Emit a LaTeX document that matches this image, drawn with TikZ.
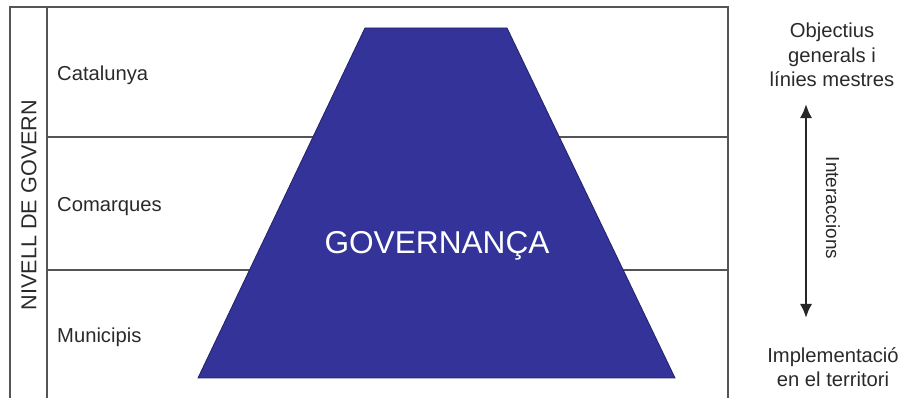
\documentclass[tikz,border=0pt]{standalone}
\usepackage{fontspec}
\setmainfont{Liberation Sans}
\usetikzlibrary{arrows.meta}
\definecolor{blaugov}{HTML}{333399}
\definecolor{gristext}{HTML}{2A2A2A}
\definecolor{grislinia}{HTML}{555555}
\tikzset{
  linia/.style={grislinia, line width=0.8pt},
  nivell/.style={anchor=west, text=gristext, font=\fontsize{11.5}{13}\selectfont},
  etiqueta/.style={align=center, text=gristext, font=\fontsize{11.5}{14}\selectfont},
}

\begin{document}
\begin{tikzpicture}[x=0.02cm, y=-0.02cm]
    \useasboundingbox (0,0) rectangle (906,398);

    % Marc
    \draw[linia] (10,398) -- (10,7) -- (728,7) -- (728,398);
    \draw[linia] (47,7) -- (47,398);
    \draw[linia] (47,137) -- (728,137);
    \draw[linia] (47,270) -- (728,270);

    % Trapezi
    \draw[fill=blaugov, draw=blaugov!70!black, line width=0.5pt]
        (198,378) -- (365,28) -- (507,28) -- (675,378) -- cycle;
    \node[text=white, font=\fontsize{18}{20}\selectfont] (gov) at (437,246) {GOVERNANÇA};

    % Nivells
    \node[rotate=90, text=gristext, font=\fontsize{12.3}{14}\selectfont] (nivell) at (29,205) {NIVELL DE GOVERN};
    \node[nivell] (cat) at (51,75) {Catalunya};
    \node[nivell] (com) at (51,207) {Comarques};
    \node[nivell] (mun) at (51,337) {Municipis};

    % Costat dret
    \node[etiqueta] (obj) at (832,55) {Objectius\\generals i\\línies mestres};
    \node[etiqueta] (imp) at (833,367) {Implementació\\en el territori};
    \coordinate (dalt) at (806,104);
    \coordinate (baix) at (806,318);
    \draw[{Latex[length=8pt,width=7pt]}-{Latex[length=8pt,width=7pt]}, line width=1.4pt, black!85] (dalt) -- (baix);
    \node[rotate=-90, text=gristext, font=\fontsize{10.8}{12}\selectfont] (inter) at (833,208) {Interaccions};
\end{tikzpicture}
\end{document}
